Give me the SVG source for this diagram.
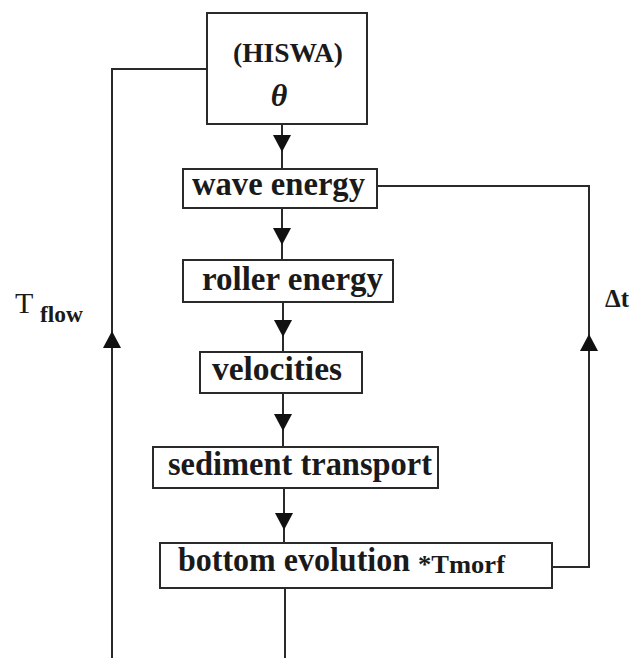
<svg xmlns="http://www.w3.org/2000/svg" width="638" height="658" viewBox="0 0 638 658">
<defs>
<style>
.box{fill:#fff;stroke:#2a2a2a;stroke-width:2}
.ln{fill:none;stroke:#2a2a2a;stroke-width:2}
.ah{fill:#111}
.lbl{font-family:"Liberation Serif",serif;font-weight:bold;fill:#1a1a1a}
</style>
<path id="down" d="M-9,-17 L9,-17 L0,0 Z"/>
<path id="up" d="M-9,17 L9,17 L0,0 Z"/>
</defs>
<rect width="638" height="658" fill="#fff"/>
<g id="connectors">
<path class="ln" d="M282,124 V169"/>
<path class="ln" d="M282,208 V260"/>
<path class="ln" d="M283,302 V352"/>
<path class="ln" d="M283,393 V447"/>
<path class="ln" d="M284,488 V543"/>
<path class="ln" d="M285,588 V658"/>
<path class="ln" d="M112,658 V69 H207"/>
<path class="ln" d="M552,567 H589 V186 H377"/>
<use href="#down" class="ah" x="282" y="152"/>
<use href="#down" class="ah" x="282" y="245"/>
<use href="#down" class="ah" x="283" y="337"/>
<use href="#down" class="ah" x="283" y="431"/>
<use href="#down" class="ah" x="284" y="530"/>
<use href="#up" class="ah" x="112" y="331"/>
<use href="#up" class="ah" x="589" y="334"/>
</g>
<g id="hiswa">
<rect class="box" x="207" y="13" width="160" height="111"/>
<text class="lbl" x="233" y="62" font-size="27" textLength="110" lengthAdjust="spacingAndGlyphs">(HISWA)</text>
<text x="279" y="106" font-family="Liberation Serif,serif" font-style="italic" font-weight="bold" font-size="32" text-anchor="middle" fill="#1a1a1a">θ</text>
</g>
<g id="wave">
<rect class="box" x="183" y="169" width="194" height="39"/>
<text class="lbl" x="192" y="195" font-size="33" textLength="173" lengthAdjust="spacingAndGlyphs">wave energy</text>
</g>
<g id="roller">
<rect class="box" x="183" y="260" width="210" height="42"/>
<text class="lbl" x="202" y="290" font-size="33" textLength="181" lengthAdjust="spacingAndGlyphs">roller energy</text>
</g>
<g id="velocities">
<rect class="box" x="200" y="352" width="162" height="41"/>
<text class="lbl" x="212" y="380" font-size="33" textLength="130" lengthAdjust="spacingAndGlyphs">velocities</text>
</g>
<g id="sediment">
<rect class="box" x="153" y="447" width="285" height="41"/>
<text class="lbl" x="168" y="475" font-size="33" textLength="264" lengthAdjust="spacingAndGlyphs">sediment transport</text>
</g>
<g id="bottom">
<rect class="box" x="160" y="543" width="392" height="45"/>
<text class="lbl" x="178" y="571" font-size="33" textLength="232" lengthAdjust="spacingAndGlyphs">bottom evolution</text>
<text class="lbl" x="418" y="573" font-size="25" textLength="87" lengthAdjust="spacingAndGlyphs">*Tmorf</text>
</g>
<g id="labels">
<text x="15" y="313" font-family="Liberation Serif,serif" font-size="30" fill="#1a1a1a">T</text>
<text class="lbl" x="40" y="322" font-size="23" textLength="43" lengthAdjust="spacingAndGlyphs">flow</text>
<text class="lbl" x="605" y="307" font-size="25">Δt</text>
</g>
</svg>
